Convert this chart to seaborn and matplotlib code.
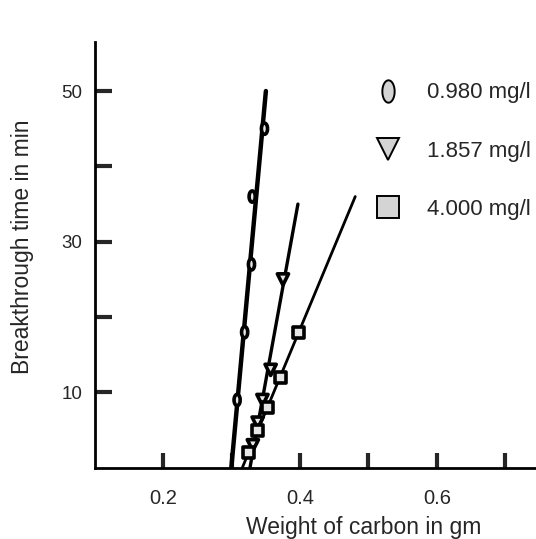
import numpy as np
import pandas as pd
import matplotlib
matplotlib.use("Agg")
import matplotlib.pyplot as plt
import seaborn as sns

# values
conc_labels = ['0.980 mg/l', '1.857 mg/l', '4.000 mg/l']
w_980 = [0.308, 0.319, 0.329, 0.330, 0.348]
t_980 = [9, 18, 27, 36, 45]
w_1857 = [0.331, 0.338, 0.345, 0.357, 0.375]
t_1857 = [3, 6, 9, 13, 25]
w_4000 = [0.325, 0.338, 0.352, 0.371, 0.398]
t_4000 = [2, 5, 8, 12, 18]
# extent of each fitted line along the time axis
line_tmax = [50, 35, 36]

x_ticks = [0.2, 0.3, 0.4, 0.5, 0.6, 0.7]
x_ticklabels = ['0.2', '', '0.4', '', '0.6', '']
y_ticks = [10, 20, 30, 40, 50]
y_ticklabels = ['10', '', '30', '', '50']

sns.set_style("white")
plt.rcParams['font.family'] = ['Liberation Sans', 'DejaVu Sans']

df = pd.concat([
    pd.DataFrame({'w': w_980, 't': t_980, 'conc': conc_labels[0]}),
    pd.DataFrame({'w': w_1857, 't': t_1857, 'conc': conc_labels[1]}),
    pd.DataFrame({'w': w_4000, 't': t_4000, 'conc': conc_labels[2]}),
])

th = np.linspace(0, 2 * np.pi, 40)
ellipse = list(zip(0.55 * np.cos(th), np.sin(th)))
markers = {conc_labels[0]: ellipse, conc_labels[1]: 'v', conc_labels[2]: 's'}

fig = plt.figure(figsize=(5.36, 5.39), dpi=100)
ax = fig.add_axes([0.177, 0.132, 0.823, 0.790])

# fitted lines, x as a function of time
for (c, grp), tmax, lw in zip(df.groupby('conc', sort=False), line_tmax, [3.2, 2.4, 2.0]):
    a, b = np.polyfit(grp.t, grp.w, 1)
    tt = np.array([0, tmax])
    sns.lineplot(x=a * tt + b, y=tt, ax=ax, color='black', lw=lw,
                 sort=False, estimator=None, legend=False)

sns.scatterplot(data=df, x='w', y='t', style='conc', markers=markers,
                color='#e6e6e6', edgecolor='black', linewidth=2.6, s=65,
                ax=ax, legend=True, zorder=3)

ax.set_xlim(0.1, 0.745)
ax.set_ylim(0, 56.5)
ax.set_xticks(x_ticks)
ax.set_xticklabels(x_ticklabels)
ax.set_yticks(y_ticks)
ax.set_yticklabels(y_ticklabels)
ax.tick_params(axis='x', direction='in', length=11, width=3, pad=15, labelsize=14.5)
ax.tick_params(axis='y', direction='in', length=12, width=3, pad=9, labelsize=13.5)
ax.tick_params(bottom=True, left=True)
for s in ['top', 'right']:
    ax.spines[s].set_visible(False)
for s in ['left', 'bottom']:
    ax.spines[s].set_color('black')
    ax.spines[s].set_linewidth(2)

ax.set_xlabel('Weight of carbon in gm', fontsize=16.5)
ax.set_ylabel('Breakthrough time in min', fontsize=16.5)
ax.xaxis.set_label_coords(0.61, -0.114)
ax.yaxis.set_label_coords(-0.138, 0.52)

leg = ax.legend(loc='upper left', bbox_to_anchor=(0.636, 0.905), frameon=False,
                fontsize=16, markerscale=2.0, labelspacing=1.68, handlelength=1.1,
                handletextpad=1.2, borderpad=0, borderaxespad=0, title=None)
for h in leg.legend_handles:
    h.set_markeredgecolor('black')
    h.set_markerfacecolor('#d4d4d4')
    h.set_markeredgewidth(1.4)

fig.savefig('out.png', dpi=100)
